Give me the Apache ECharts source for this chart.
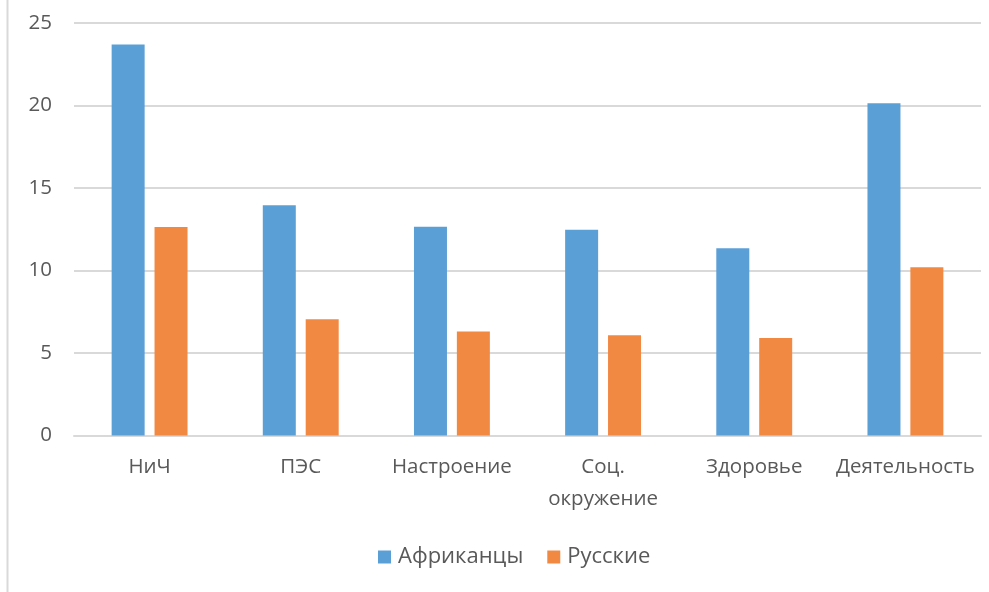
<!DOCTYPE html>
<html><head><meta charset="utf-8">
<script src="https://cdn.jsdelivr.net/npm/echarts@6/dist/echarts.min.js"></script>
<style>html,body{margin:0;padding:0;background:#fff}#c{width:989px;height:592px}</style>
</head><body><div id="c"></div>
<script>
var categories = ['НиЧ', 'ПЭС', 'Настроение', 'Соц.\nокружение', 'Здоровье', 'Деятельность'];
var africans = [23.7, 13.95, 12.65, 12.47, 11.35, 20.13];
var russians = [12.64, 7.04, 6.31, 6.07, 5.91, 10.19];
var yTicks = [0, 5, 10, 15, 20, 25];
var seriesNames = ['Африканцы', 'Русские'];

var chart = echarts.init(document.getElementById('c'));
var font = '"Open Sans", "Noto Sans", sans-serif';
chart.setOption({
  animation: false,
  textStyle: {fontFamily: font},
  graphic: [{type: 'line', shape: {x1: 7.5, y1: 0, x2: 7.5, y2: 592}, style: {stroke: '#d9d9d9', lineWidth: 2}}],
  grid: {left: 74, right: 8, top: 23, bottom: 156.5, containLabel: false},
  legend: {
    data: seriesNames, bottom: 24, left: 378, itemWidth: 13, itemHeight: 13, itemGap: 24,
    icon: 'rect', padding: 0,
    textStyle: {fontSize: 22, color: '#595959', fontFamily: font, padding: [0, 0, 0, 2]}
  },
  xAxis: {
    type: 'category', data: categories,
    axisLine: {lineStyle: {color: '#d9d9d9', width: 2}},
    axisTick: {show: false},
    axisLabel: {fontSize: 20.5, color: '#595959', margin: 16, lineHeight: 32, interval: 0, fontFamily: font}
  },
  yAxis: {
    type: 'value', min: yTicks[0], max: yTicks[yTicks.length - 1], interval: 5,
    axisLine: {show: false}, axisTick: {show: false},
    splitLine: {lineStyle: {color: '#d9d9d9', width: 2}},
    axisLabel: {fontSize: 20.5, color: '#595959', margin: 22, fontFamily: font}
  },
  series: [
    {name: seriesNames[0], type: 'bar', data: africans, barWidth: 33, barGap: '30%', itemStyle: {color: '#5B9FD7'}},
    {name: seriesNames[1], type: 'bar', data: russians, barWidth: 33, itemStyle: {color: '#F28943'}}
  ]
});
</script></body></html>
